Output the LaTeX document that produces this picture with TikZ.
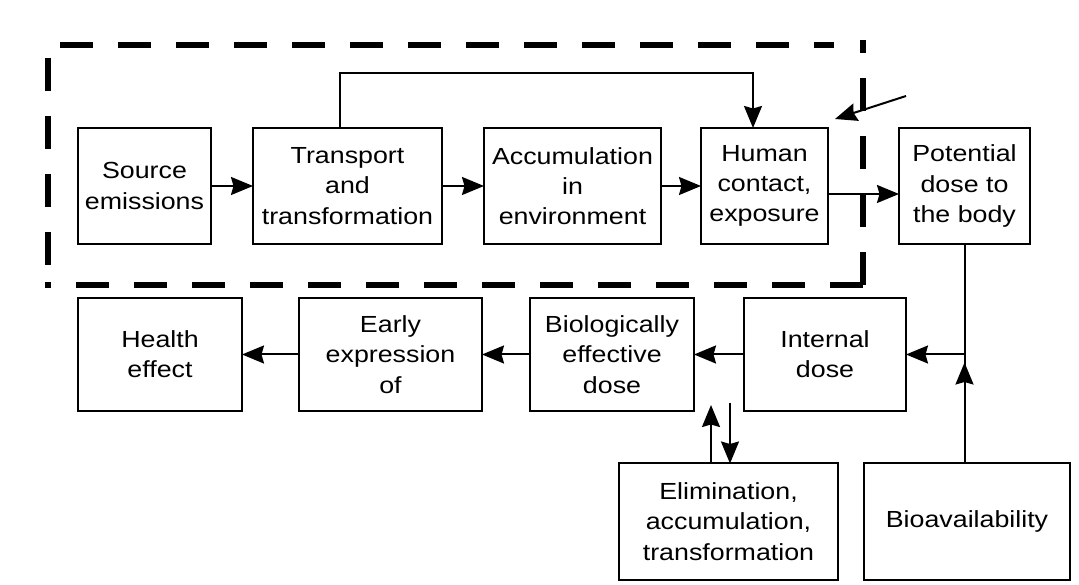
\documentclass[tikz,border=0pt]{standalone}
\usepackage{fontspec}
\setmainfont{Liberation Sans}[FakeStretch=1.15]
\usetikzlibrary{positioning,arrows.meta}

\begin{document}
\begin{tikzpicture}[x=1pt,y=1pt,line width=2pt,
        >={Stealth[length=22pt,width=18pt,inset=2.5pt]},
        stage node/.style={rectangle,draw,align=center,inner sep=2pt,outer sep=0pt,
            minimum height=116pt,font=\fontsize{23.3}{30.3}\selectfont},
        border line/.style={line width=5.7pt,dash pattern=on 33pt off 25pt}]

    \useasboundingbox (0,0) rectangle (1079,584);
    \draw[border line]
        (863,299) -- (45,299)
        (863,299) -- (863,544)
        (48,526) -- (48,318)
        (60,539) -- (834,539);

    \node[stage node,minimum width=133pt] (src) at (144.5,398) {Source\\emissions};
    \node[stage node,minimum width=189pt] (trans) [right=42pt of src] {Transport\\and\\transformation};
    \node[stage node,minimum width=177pt] (accum) [right=42pt of trans] {Accumulation\\in\\environment};
    \node[stage node,minimum width=127pt] (human) [right=40pt of accum] {Human\\contact,\\exposure};
    \node[stage node,minimum width=131pt] (pot) [right=71pt of human] {Potential\\dose to\\the body};

    \node[stage node,minimum width=162pt,minimum height=113pt] (int) at (825,229.5) {Internal\\dose};
    \node[stage node,minimum width=164pt,minimum height=113pt] (bioeff) [left=50pt of int] {Biologically\\effective\\dose};
    \node[stage node,minimum width=183pt,minimum height=113pt] (early) [left=48pt of bioeff] {Early\\expression\\of};
    \node[stage node,minimum width=164pt,minimum height=113pt] (health) [left=57pt of early] {Health\\effect};

    \node[stage node,minimum width=219pt] (elim) at (728.5,62.5) {Elimination,\\accumulation,\\transformation};
    \node[stage node,minimum width=206pt] (bio) [right=26pt of elim] {Bioavailability};

    \coordinate (jn) at (pot.south |- int.east);
    \coordinate (dstart) at (906,488);
    \coordinate (dend) at (835,465);
    \coordinate (upend) at (711,179);
    \coordinate (dnstart) at (730,181);

    \path[->]
    (src) edge (trans)
    (trans) edge (accum)
    (accum) edge (human)
    ([yshift=-8pt]human.east) edge ([yshift=-8pt]pot.west)
    (dstart) edge (dend)
    (int) edge (bioeff)
    (bioeff) edge (early)
    (early) edge (health)
    (upend |- elim.north) edge (upend)
    (dnstart) edge (dnstart |- elim.north);
    \draw[->] ([xshift=-7.5pt]trans.north) -- ++(0,55) -| ([xshift=-11.5pt]human.north);
    \draw[->] (pot.south) |- (int.east);
    \draw (jn |- bio.north) -- (jn);
    \draw[->] (jn |- bio.north) -- ([yshift=-8pt]jn);
\end{tikzpicture}
\end{document}
